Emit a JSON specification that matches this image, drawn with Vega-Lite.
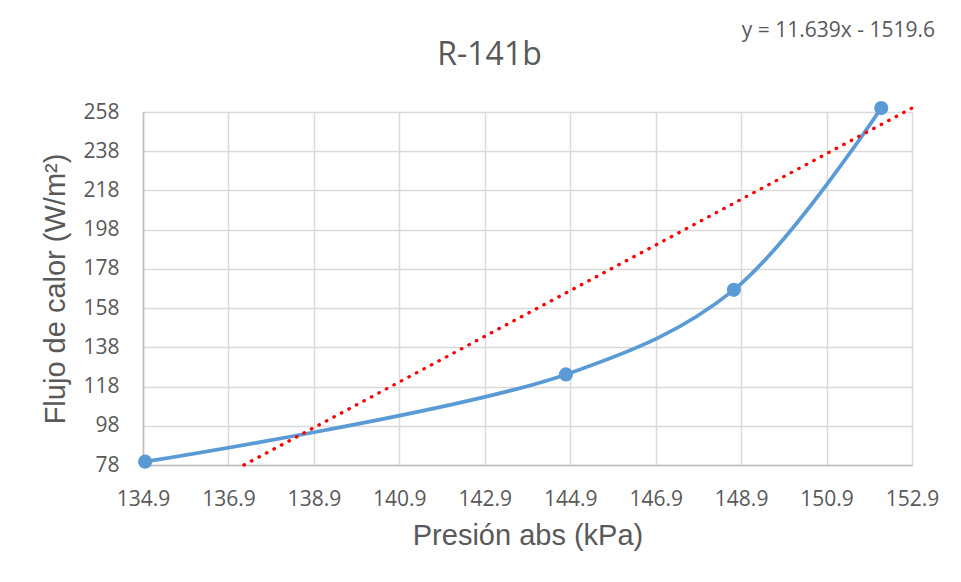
{
  "$schema": "https://vega.github.io/schema/vega-lite/v6.json",
  "width": 769,
  "height": 353,
  "autosize": {"type": "none"},
  "padding": {"left": 143, "top": 112, "right": 49, "bottom": 117},
  "background": "white",
  "title": {
    "text": "R-141b",
    "font": "Open Sans",
    "fontSize": 32,
    "fontWeight": "normal",
    "color": "#595959",
    "anchor": "middle",
    "frame": "group",
    "baseline": "alphabetic",
    "dx": -38,
    "offset": -77
  },
  "config": {
    "view": {"stroke": null},
    "axis": {
      "labelFont": "Open Sans",
      "labelFontSize": 21,
      "labelColor": "#595959",
      "labelOverlap": false,
      "labelFlush": false,
      "labelBound": false,
      "titleFont": "Liberation Sans",
      "titleFontSize": 29,
      "titleFontWeight": "normal",
      "titleColor": "#595959",
      "gridColor": "#d9d9d9",
      "gridWidth": 1.5,
      "domainColor": "#bfbfbf",
      "domainWidth": 1.5,
      "ticks": false
    }
  },
  "datasets": {
    "pts": [
      {"p": 134.95, "q": 79.7},
      {"p": 144.8, "q": 124.2},
      {"p": 148.73, "q": 167.3},
      {"p": 152.18, "q": 260.0}
    ],
    "trend": [
      {"p": 137.263, "q": 78.0},
      {"p": 152.9, "q": 260.0}
    ],
    "eq": [
      {"p": 152.9, "q": 258, "label": "y = 11.639x - 1519.6"}
    ]
  },
  "layer": [
    {
      "data": {"name": "pts"},
      "mark": {"type": "line", "color": "#5b9bd5", "strokeWidth": 3.75, "interpolate": "catmull-rom"},
      "encoding": {
        "x": {
          "field": "p", "type": "quantitative",
          "scale": {"domain": [134.9, 152.9], "nice": false, "zero": false},
          "axis": {
            "values": [134.9, 136.9, 138.9, 140.9, 142.9, 144.9, 146.9, 148.9, 150.9, 152.9],
            "format": ".1f",
            "tickCount": 20,
            "labelPadding": 23,
            "titlePadding": 12,
            "title": "Presión abs (kPa)"
          }
        },
        "y": {
          "field": "q", "type": "quantitative",
          "scale": {"domain": [78, 258], "nice": false, "zero": false},
          "axis": {
            "values": [78, 98, 118, 138, 158, 178, 198, 218, 238, 258],
            "tickCount": 20,
            "labelPadding": 24,
            "titlePadding": 12,
            "title": "Flujo de calor (W/m²)"
          }
        }
      }
    },
    {
      "data": {"name": "pts"},
      "mark": {"type": "circle", "color": "#5b9bd5", "size": 200, "opacity": 1},
      "encoding": {
        "x": {"field": "p", "type": "quantitative"},
        "y": {"field": "q", "type": "quantitative"}
      }
    },
    {
      "data": {"name": "trend"},
      "mark": {"type": "line", "color": "#ff0000", "strokeWidth": 3.3, "strokeDash": [0.5, 8], "strokeCap": "round"},
      "encoding": {
        "x": {"field": "p", "type": "quantitative"},
        "y": {"field": "q", "type": "quantitative"}
      }
    },
    {
      "data": {"name": "eq"},
      "mark": {"type": "text", "font": "Open Sans", "fontSize": 21, "color": "#595959", "align": "right", "baseline": "alphabetic", "dx": 23, "dy": -75},
      "encoding": {
        "x": {"field": "p", "type": "quantitative"},
        "y": {"field": "q", "type": "quantitative"},
        "text": {"field": "label"}
      }
    }
  ]
}
